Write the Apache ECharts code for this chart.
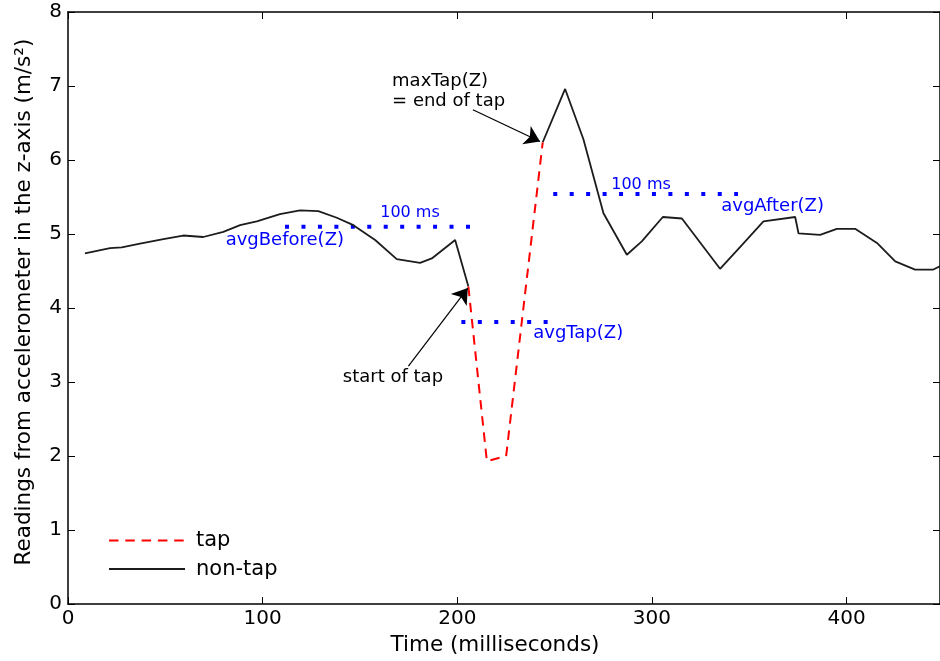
<!DOCTYPE html>
<html>
<head>
<meta charset="utf-8">
<script src="https://cdn.jsdelivr.net/npm/echarts@6/dist/echarts.min.js"></script>
<style>html,body{margin:0;padding:0;background:#fff}#c{width:940px;height:661px}</style>
</head>
<body>
<div id="c"></div>
<script>
// ---- data ----
const beforeTime = [8.7, 21.6, 27.6, 37.0, 49.0, 59.2, 69.5, 79.8, 88.4, 97.0, 108.9, 119.2, 128.6, 138.1, 146.6, 157.8, 168.9, 180.9, 186.9, 198.9, 205.7];
const beforeZ    = [4.74, 4.81, 4.82, 4.87, 4.93, 4.98, 4.96, 5.03, 5.12, 5.17, 5.27, 5.32, 5.31, 5.22, 5.12, 4.92, 4.66, 4.61, 4.67, 4.92, 4.29];
const tapTime    = [205.7, 215.2, 225.1, 243.9];
const tapZ       = [4.29, 1.93, 2.00, 6.24];
const afterTime  = [243.9, 255.4, 264.8, 275.1, 287.1, 294.8, 305.6, 315.4, 335.0, 346.2, 357.3, 373.6, 375.3, 386.4, 395.0, 404.4, 415.6, 425.0, 435.2, 444.6, 448.5];
const afterZ     = [6.24, 6.96, 6.28, 5.28, 4.72, 4.90, 5.23, 5.21, 4.53, 4.85, 5.17, 5.23, 5.01, 4.99, 5.07, 5.07, 4.88, 4.63, 4.52, 4.52, 4.57];
const avgBeforeTime = [111.5, 207.6], avgBeforeZ = [5.10, 5.10];
const avgTapTime    = [202.1, 247.3], avgTapZ    = [3.81, 3.81];
const avgAfterTime  = [249.3, 344.2], avgAfterZ  = [5.54, 5.54];
const xTicks = [0, 100, 200, 300, 400];
const yTicks = [0, 1, 2, 3, 4, 5, 6, 7, 8];
const annotations = [
  {text: '100 ms', t: 175.7, z: 5.28, color: '#0000ff', size: 16, align: 'center'},
  {text: 'avgBefore(Z)', t: 81.0, z: 4.92, color: '#0000ff', size: 18, align: 'left'},
  {text: 'avgTap(Z)', t: 239.0, z: 3.66, color: '#0000ff', size: 18, align: 'left'},
  {text: '100 ms', t: 294.4, z: 5.66, color: '#0000ff', size: 16, align: 'center'},
  {text: 'avgAfter(Z)', t: 335.6, z: 5.38, color: '#0000ff', size: 18, align: 'left'},
  {text: 'maxTap(Z)', t: 166.5, z: 7.07, color: '#000', size: 18, align: 'left'},
  {text: '= end of tap', t: 166.5, z: 6.79, color: '#000', size: 18, align: 'left'},
  {text: 'start of tap', t: 141.2, z: 3.07, color: '#000', size: 18, align: 'left'}
];
const arrows = [
  {from: [174.9, 3.215], to: [205.4, 4.27]},
  {from: [208.0, 6.68], to: [242.5, 6.25]}
];
// ---------------------------------------
const zip = (a, b) => a.map((v, i) => [v, b[i]]);
const FONT = 'DejaVu Sans';
const xMin = 0, xMax = 448;
const chart = echarts.init(document.getElementById('c'), null, {renderer: 'canvas'});

const xCommon = {type: 'value', min: xMin, max: xMax, interval: 100, splitLine: {show: false},
  axisLine: {show: true, onZero: false, lineStyle: {color: '#000', width: 1.5}},
  axisTick: {show: true, inside: true, length: 7, customValues: xTicks, lineStyle: {color: '#000', width: 1}}};
const yCommon = {type: 'value', min: 0, max: 8, interval: 1, splitLine: {show: false},
  axisLine: {show: true, onZero: false, lineStyle: {color: '#000', width: 1.5}},
  axisTick: {show: true, inside: true, length: 7, customValues: yTicks, lineStyle: {color: '#000', width: 1}}};

const dotted = {color: '#0000ff', width: 4, type: [4, 12.45], cap: 'butt'};

chart.setOption({
  animation: false,
  textStyle: {fontFamily: FONT},
  grid: {left: 68, top: 12, right: 0, bottom: 53.5},
  xAxis: [
    Object.assign({}, xCommon, {position: 'bottom',
      name: 'Time (milliseconds)', nameLocation: 'middle', nameGap: 26,
      nameTextStyle: {fontFamily: FONT, fontSize: 21.5, color: '#000', padding: [0, 18, 0, 0]},
      axisLabel: {show: true, fontFamily: FONT, fontSize: 20, color: '#000', margin: 5,
        customValues: xTicks}}),
    Object.assign({}, xCommon, {position: 'top', axisLabel: {show: false}})
  ],
  yAxis: [
    Object.assign({}, yCommon, {position: 'left',
      name: 'Readings from accelerometer in the z-axis (m/s²)', nameLocation: 'middle', nameGap: 33,
      nameTextStyle: {fontFamily: FONT, fontSize: 21.5, color: '#000', padding: [0, 0, 0, 12]},
      axisLabel: {show: true, fontFamily: FONT, fontSize: 20, color: '#000', margin: 6, customValues: yTicks}}),
    Object.assign({}, yCommon, {position: 'right', axisLabel: {show: false}})
  ],
  legend: {
    data: ['tap', 'non-tap'], orient: 'vertical', left: 103, top: 525,
    itemWidth: 76, itemHeight: 14, itemGap: 7.6,
    itemStyle: {opacity: 0},
    textStyle: {fontFamily: FONT, fontSize: 21, color: '#000', lineHeight: 20, padding: [0, 0, 0, 6]},
    selectedMode: false
  },
  series: [
    {name: 'non-tap', type: 'line', data: zip(beforeTime, beforeZ), symbol: 'none', showSymbol: false,
      lineStyle: {color: '#1c1c1c', width: 1.8}, itemStyle: {color: '#1c1c1c'}, z: 3},
    {name: 'non-tap', type: 'line', data: zip(afterTime, afterZ), symbol: 'none', showSymbol: false,
      lineStyle: {color: '#1c1c1c', width: 1.8}, itemStyle: {color: '#1c1c1c'}, z: 3},
    {name: 'tap', type: 'line', data: zip(tapTime, tapZ), symbol: 'none', showSymbol: false,
      lineStyle: {color: '#ff0000', width: 2, type: [9.5, 6.8]}, itemStyle: {color: '#ff0000'}, z: 3},
    {name: 'avgBefore', type: 'line', data: zip(avgBeforeTime, avgBeforeZ), symbol: 'none', lineStyle: dotted, z: 2},
    {name: 'avgTap', type: 'line', data: zip(avgTapTime, avgTapZ), symbol: 'none', lineStyle: dotted, z: 2},
    {name: 'avgAfter', type: 'line', data: zip(avgAfterTime, avgAfterZ), symbol: 'none', lineStyle: dotted, z: 2,
      markLine: {silent: true, animation: false, symbol: ['none', 'arrow'], symbolSize: 15,
        label: {show: false}, lineStyle: {color: '#000', width: 1.2, type: 'solid'},
        itemStyle: {color: '#000'},
        emphasis: {disabled: true},
        data: arrows.map(a => [{coord: a.from}, {coord: a.to}])}}
  ]
});

const graphics = annotations.map(a => {
  const p = chart.convertToPixel({xAxisIndex: 0, yAxisIndex: 0}, [a.t, a.z]);
  return {type: 'text', x: p[0], y: p[1], silent: true, z: 10,
    style: {text: a.text, fill: a.color, font: a.size + 'px "' + FONT + '"',
      textAlign: a.align, textVerticalAlign: 'middle', align: a.align, verticalAlign: 'middle'}};
});
chart.setOption({graphic: graphics});
</script>
</body>
</html>
